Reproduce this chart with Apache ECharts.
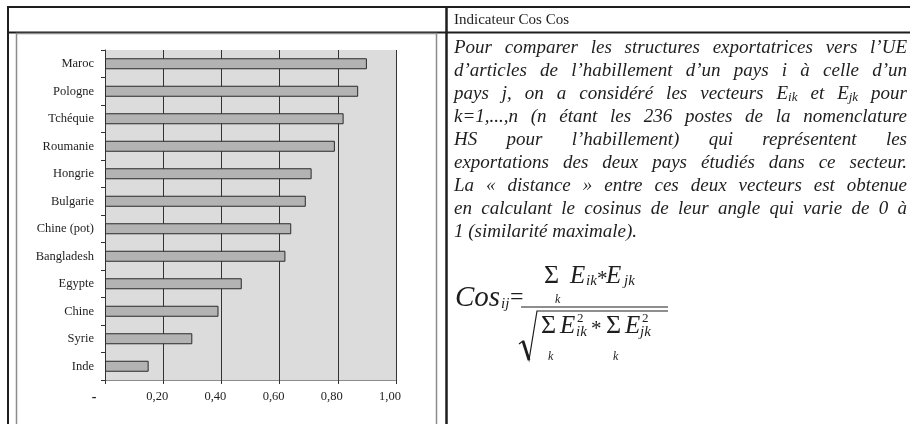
<!DOCTYPE html>
<html>
<head>
<meta charset="utf-8">
<script src="https://cdn.jsdelivr.net/npm/echarts@6/dist/echarts.min.js"></script>
<style>
  html, body { margin: 0; padding: 0; background: #fff; }
  .chart { width: 910px; height: 424px; }
</style>
</head>
<body>
<div class="chart"></div>
<script>
// données du graphique
var countries = ["Maroc", "Pologne", "Tchéquie", "Roumanie", "Hongrie", "Bulgarie",
  "Chine (pot)", "Bangladesh", "Egypte", "Chine", "Syrie", "Inde"];
var cosValues = [0.90, 0.87, 0.82, 0.79, 0.71, 0.69, 0.64, 0.62, 0.47, 0.39, 0.30, 0.15];
var axisMin = 0;
var axisMax = 1;
var axisStep = 0.2;

// texte de la cellule de droite
var headerText = "Indicateur Cos Cos";
var bodyLines = [
  "Pour comparer les structures exportatrices vers l’UE",
  "d’articles de l’habillement d’un pays i à celle d’un",
  "pays j, on a considéré les vecteurs E_ik et E_jk pour",
  "k=1,...,n (n étant les 236 postes de la nomenclature",
  "HS pour l’habillement) qui représentent les",
  "exportations des deux pays étudiés dans ce secteur.",
  "La « distance » entre ces deux vecteurs est obtenue",
  "en calculant le cosinus de leur angle qui varie de 0 à",
  "1 (similarité maximale)."
];

(function() {
  var myChart = echarts.init(document.querySelector(".chart"));
  var serif = '"Liberation Serif", "Times New Roman", serif';
  var ink = "#1e1e1e";

  // mesure du texte pour justifier les lignes
  var ctx = document.createElement("canvas").getContext("2d");
  function measure(t, size, italic) {
    ctx.font = (italic ? "italic " : "") + size + "px " + serif;
    return ctx.measureText(t).width;
  }

  function txt(t, x, y, size, italic, align) {
    return {
      type: "text",
      x: x,
      y: y,
      silent: true,
      style: {
        text: t,
        fontFamily: serif,
        fontSize: size,
        fontStyle: italic ? "italic" : "normal",
        fill: ink,
        align: align || "left",
        verticalAlign: "middle"
      }
    };
  }

  var elements = [];

  // cadre du tableau
  var lineStyle = { stroke: ink, lineWidth: 2 };
  elements.push({ type: "line", silent: true, shape: { x1: 8, y1: 7, x2: 910, y2: 7 }, style: lineStyle });
  elements.push({ type: "line", silent: true, shape: { x1: 8, y1: 32.5, x2: 910, y2: 32.5 }, style: lineStyle });
  elements.push({ type: "line", silent: true, shape: { x1: 8, y1: 6, x2: 8, y2: 424 }, style: lineStyle });
  elements.push({ type: "line", silent: true, shape: { x1: 446.5, y1: 6, x2: 446.5, y2: 424 }, style: { stroke: ink, lineWidth: 2.5 } });
  // cadre gris du graphique
  elements.push({
    type: "rect", silent: true,
    shape: { x: 16.5, y: 33.5, width: 420, height: 420 },
    style: { fill: "none", stroke: "#8c8c8c", lineWidth: 1.5 }
  });

  // en-tête
  elements.push(txt(headerText, 454, 20, 15, false));

  // texte justifié
  var left = 454, right = 907, bodySize = 19;
  bodyLines.forEach(function(line, i) {
    var y = 48 + i * 23;
    var words = line.split(" ").map(function(w) {
      var m = w.match(/^(.*)_(\w+)$/);
      if (m) {
        var a = measure(m[1], bodySize, true);
        var b = measure(m[2], 13, true);
        return { segs: [{ t: m[1], size: bodySize, dx: 0, dy: 0 }, { t: m[2], size: 13, dx: a, dy: 4 }], w: a + b };
      }
      return { segs: [{ t: w, size: bodySize, dx: 0, dy: 0 }], w: measure(w, bodySize, true) };
    });
    var total = words.reduce(function(s, w) { return s + w.w; }, 0);
    var last = i === bodyLines.length - 1;
    var gap = last ? measure(" ", bodySize, true) : (right - left - total) / (words.length - 1);
    var x = left;
    words.forEach(function(w) {
      w.segs.forEach(function(s) {
        elements.push(txt(s.t, x + s.dx, y + s.dy, s.size, true));
      });
      x += w.w + gap;
    });
  });

  // formule du cosinus
  elements.push(txt("Σ", 544, 276, 26, false));
  elements.push(txt("E", 570, 276, 25, true));
  elements.push(txt("ik", 586, 281, 15, true));
  elements.push(txt("*", 597, 279, 21, false));
  elements.push(txt("E", 606, 276, 25, true));
  elements.push(txt("jk", 624, 281, 15, true));
  elements.push(txt("k", 555, 300, 12, true));

  elements.push(txt("Cos", 455, 298, 29, true));
  elements.push(txt("ij", 501, 304, 15, true));
  elements.push(txt("=", 510, 298, 24, false));

  elements.push({ type: "line", silent: true, shape: { x1: 521, y1: 307, x2: 668, y2: 307 }, style: { stroke: ink, lineWidth: 1.2 } });
  elements.push({
    type: "polyline", silent: true,
    shape: { points: [[519, 344], [523, 341], [529, 360], [537, 311], [668, 311]] },
    style: { stroke: ink, lineWidth: 1.2, fill: "none" }
  });
  elements.push({ type: "line", silent: true, shape: { x1: 523, y1: 341, x2: 529, y2: 360 }, style: { stroke: ink, lineWidth: 2.8 } });

  elements.push(txt("Σ", 541, 326, 26, false));
  elements.push(txt("E", 560, 326, 25, true));
  elements.push(txt("2", 577, 319, 13, false));
  elements.push(txt("ik", 576, 332, 15, true));
  elements.push(txt("*", 591, 329, 21, false));
  elements.push(txt("Σ", 606, 326, 26, false));
  elements.push(txt("E", 625, 326, 25, true));
  elements.push(txt("2", 642, 319, 13, false));
  elements.push(txt("jk", 640, 332, 15, true));
  elements.push(txt("k", 548, 357, 12, true));
  elements.push(txt("k", 613, 357, 12, true));

  var option = {
    animation: false,
    grid: {
      left: 105,
      right: 514,
      top: 50,
      bottom: 44,
      show: true,
      backgroundColor: "#dcdcdc",
      borderWidth: 0
    },
    xAxis: {
      type: "value",
      min: axisMin,
      max: axisMax,
      interval: axisStep,
      axisLine: { show: true, lineStyle: { color: "#8c8c8c", width: 1 } },
      axisTick: { show: true, length: 4, lineStyle: { color: "#333" } },
      splitLine: { show: true, lineStyle: { color: "#333", width: 1 } },
      axisLabel: {
        margin: 10,
        formatter: function(v) {
          if (v === 0) return "{d|-}";
          return "{n|" + v.toFixed(2).replace(".", ",") + "}";
        },
        rich: {
          d: { fontFamily: serif, fontSize: 14, fontWeight: "bold", color: ink, padding: [0, 22, 0, 0] },
          n: { fontFamily: serif, fontSize: 12.5, color: ink, padding: [0, 12, 0, 0] }
        }
      }
    },
    yAxis: {
      type: "category",
      inverse: true,
      data: countries,
      axisLine: { show: true, lineStyle: { color: "#333", width: 1 } },
      axisTick: { show: true, length: 4, lineStyle: { color: "#333" } },
      axisLabel: { margin: 11, fontFamily: serif, fontSize: 12.5, color: ink }
    },
    series: [
      {
        name: "Cos",
        type: "bar",
        data: cosValues,
        barWidth: 11,
        itemStyle: {
          color: "#b3b3b3",
          borderColor: "#2a2a2a",
          borderWidth: 1
        }
      }
    ],
    graphic: { elements: elements }
  };

  myChart.setOption(option);
  window.addEventListener("resize", function() {
    myChart.resize();
  });
})();
</script>
</body>
</html>
